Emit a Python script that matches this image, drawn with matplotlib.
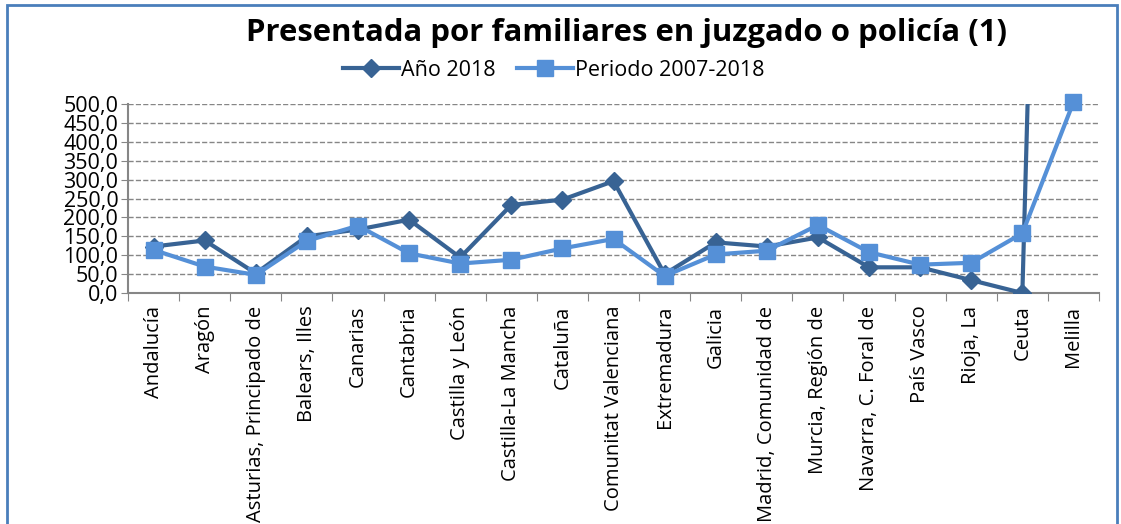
import matplotlib.pyplot as plt
from matplotlib.patches import Rectangle

# regions (categories on x axis)
regiones = ["Andalucía", "Aragón", "Asturias, Principado de", "Balears, Illes",
            "Canarias", "Cantabria", "Castilla y León", "Castilla-La Mancha",
            "Cataluña", "Comunitat Valenciana", "Extremadura", "Galicia",
            "Madrid, Comunidad de", "Murcia, Región de", "Navarra, C. Foral de",
            "País Vasco", "Rioja, La", "Ceuta", "Melilla"]

# values (Melilla 2018 goes far off the top)
anio_2018 = [123, 139, 52, 150, 168, 194, 94, 233, 247, 296,
             50, 134, 123, 147, 68, 68, 34, 0, 4900]
periodo = [114, 70, 48, 138, 178, 105, 78, 88, 118, 143,
           45, 102, 112, 180, 108, 75, 80, 158, 505]

yticks = [0, 50, 100, 150, 200, 250, 300, 350, 400, 450, 500]

plt.rcParams['font.family'] = ['Open Sans', 'DejaVu Sans']

fig = plt.figure(figsize=(11.21, 5.24), dpi=100)
ax = fig.add_axes([0.1142, 0.4408, 0.8662, 0.3607])

x = list(range(len(regiones)))
dark = '#386394'
light = '#5590D7'

ax.plot(x, anio_2018, color=dark, lw=3, marker='D', ms=9, label='Año 2018', zorder=3)
ax.plot(x, periodo, color=light, lw=3, marker='s', ms=11, label='Periodo 2007-2018',
        zorder=4, clip_on=False)

ax.set_xlim(-0.5, len(regiones) - 0.5)
ax.set_ylim(0, 500)
ax.set_yticks(yticks)
ax.yaxis.set_major_formatter(plt.FuncFormatter(lambda v, p: ("%.1f" % v).replace('.', ',')))
ax.tick_params(axis='y', labelsize=15.5, length=5, color='#868686', pad=2)

# x ticks between categories, labels at categories
ax.set_xticks([i - 0.5 for i in range(len(regiones) + 1)])
ax.set_xticklabels([])
ax.set_xticks(x, minor=True)
ax.set_xticklabels(regiones, minor=True, rotation=90, ha='center', va='top', fontsize=14.5)
ax.tick_params(axis='x', which='major', length=6, color='#868686')
ax.tick_params(axis='x', which='minor', length=0, pad=9)

ax.grid(axis='y', linestyle='--', color='#868686', lw=1)
ax.set_axisbelow(True)
for s in ['top', 'right']:
    ax.spines[s].set_visible(False)
for s in ['left', 'bottom']:
    ax.spines[s].set_color('#868686')
    ax.spines[s].set_linewidth(1.5)

fig.text(0.5585, 0.937, 'Presentada por familiares en juzgado o policía (1)',
         ha='center', va='center', fontsize=22.4, fontweight='bold')
fig.legend(loc='center', bbox_to_anchor=(0.494, 0.866), ncol=2, frameon=False,
           fontsize=15.5, handlelength=2.6, columnspacing=1.0, handletextpad=0.1)

# outer chart border
fig.patches.append(Rectangle((7 / 1121, -0.05), 1110 / 1121, 1.05 - 5 / 524,
                             transform=fig.transFigure, fill=False,
                             edgecolor='#4A7EBB', lw=2))

fig.savefig('out.png', dpi=100)
